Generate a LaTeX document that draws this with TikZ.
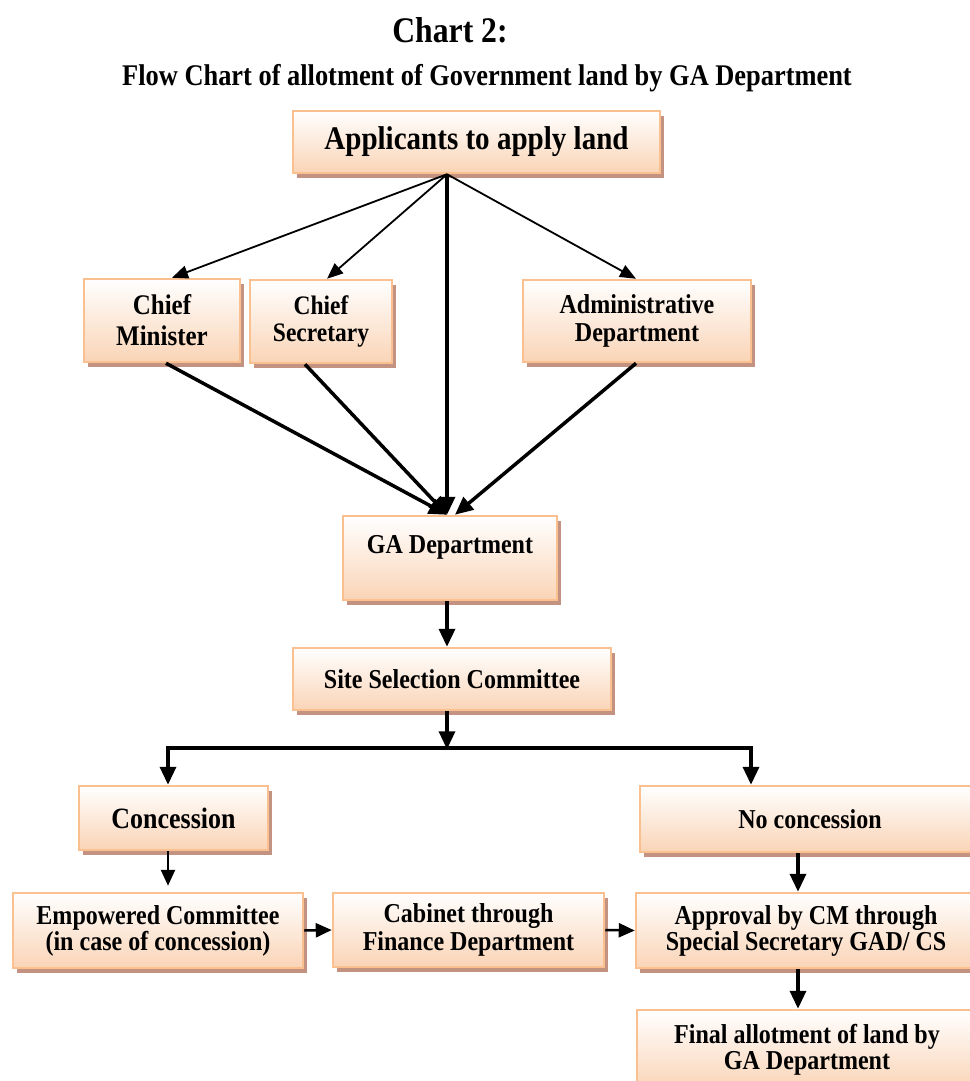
\documentclass[tikz,border=0pt]{standalone}
\usepackage{fontspec}
\setmainfont{Liberation Serif}[FakeStretch=0.88]
\usetikzlibrary{arrows.meta,shadows}
\definecolor{boxline}{RGB}{250,192,143}
\definecolor{peach}{RGB}{250,212,182}
\definecolor{shade}{RGB}{196,146,128}
\begin{document}
\begin{tikzpicture}[x=1pt,y=-1pt,
  box/.style={rectangle,draw=boxline,line width=2.5pt,top color=white,bottom color=peach,
    align=center,inner sep=0pt,font=\bfseries\fontsize{27.3}{28}\selectfont,
    general shadow={fill=shade,shadow xshift=4pt,shadow yshift=-5pt}},
  boxT/.style={font=\bfseries\fontsize{#1}{#1}\selectfont},
  arr/.style={line width=1.8pt,-{Triangle[length=16pt,width=13pt]}},
  arrM/.style={line width=2.5pt,-{Triangle[length=16pt,width=14pt]}},
  arrB/.style={line width=3.5pt,-{Triangle[length=18pt,width=16pt]}}]
\useasboundingbox (0,0) rectangle (969,1081);

% headings
\node[boxT=36] (chart) at (450,30) {Chart 2:};
\node[boxT=30] (title) at (487,78) {Flow Chart of allotment of Government land by GA Department};

% boxes
\node[box,minimum width=367pt,minimum height=62pt,font=\bfseries\fontsize{33}{32}\selectfont] (app) at (476.5,142) {Applicants to apply land};

\node[box,minimum width=156pt,minimum height=83pt,font=\bfseries\fontsize{28.4}{31}\selectfont] (cm) at (162,320.5) {Chief\\Minister};
\node[box,minimum width=142pt,minimum height=83pt,font=\bfseries\fontsize{26.7}{27}\selectfont] (cs) at (321,321.5) {Chief\\Secretary};
\node[box,minimum width=228pt,minimum height=82pt] (ad) at (637,321) {Administrative\\Department};

\node[box,minimum width=214pt,minimum height=84pt,text depth=28pt] (ga) at (450,558) {GA Department};
\node[box,minimum width=318pt,minimum height=62pt] (ssc) at (452,679) {Site Selection Committee};

\node[box,minimum width=189pt,minimum height=64pt,font=\bfseries\fontsize{29.5}{30}\selectfont] (con) at (173.5,818) {Concession};
\node[box,minimum width=340pt,minimum height=66pt] (ncon) at (810,819) {No concession};

\node[box,minimum width=290pt,minimum height=75pt,font=\bfseries\fontsize{27.3}{26}\selectfont] (emp) at (158,930.5) {Empowered Committee\\(in case of concession)};
\node[box,minimum width=271pt,minimum height=74pt] (cab) at (468.5,930) {Cabinet through\\Finance Department};
\node[box,minimum width=340pt,minimum height=75pt,font=\bfseries\fontsize{27.3}{26}\selectfont] (appr) at (806,930.5) {Approval by CM through\\Special Secretary GAD/ CS};
\node[box,minimum width=340pt,minimum height=80pt,font=\bfseries\fontsize{27.3}{26}\selectfont] (fin) at (807,1050) {Final allotment of land by\\GA Department};

% connectors
\coordinate (src) at ([xshift=-29.5pt]app.south);
\draw[arr] (src) -- ([xshift=10pt]cm.north);
\draw[arr] (src) -- ([xshift=6pt]cs.north);
\draw[arr] (src) -- ([xshift=-1pt]ad.north);
\draw[arrB] (src) -- ([xshift=-3pt]ga.north);

\draw[arrB] ([xshift=4pt]cm.south) -- ([xshift=-3pt]ga.north);
\draw[arrB] ([xshift=-16pt]cs.south) -- ([xshift=-3pt]ga.north);
\draw[arrB] ([xshift=-1pt]ad.south) -- ([xshift=5pt]ga.north);

\draw[arrB] ([xshift=-3pt]ga.south) -- ([xshift=-5pt]ssc.north);

\coordinate (brM) at ([xshift=-5pt,yshift=-38pt]ssc.south);
\coordinate (brL) at (168,748);
\coordinate (brR) at (751,748);
\draw[arrB] ([xshift=-5pt]ssc.south) -- (brM);
\draw[line width=3.5pt,{Triangle[length=18pt,width=16pt]}-{Triangle[length=18pt,width=16pt]}] (brL |- con.north) -- (brL) -- (brR) -- (brR |- ncon.north);

\draw[arrM,shorten >=6pt] ([xshift=-5.5pt]con.south) -- ([xshift=10pt]emp.north);
\draw[arrM] (emp.east) -- (cab.west);
\draw[arrM] (cab.east) -- (appr.west);
\draw[arrB] ([xshift=-12pt]ncon.south) -- ([xshift=-8pt]appr.north);
\draw[arrB] ([xshift=-8pt]appr.south) -- ([xshift=-9pt]fin.north);
\end{tikzpicture}
\end{document}
